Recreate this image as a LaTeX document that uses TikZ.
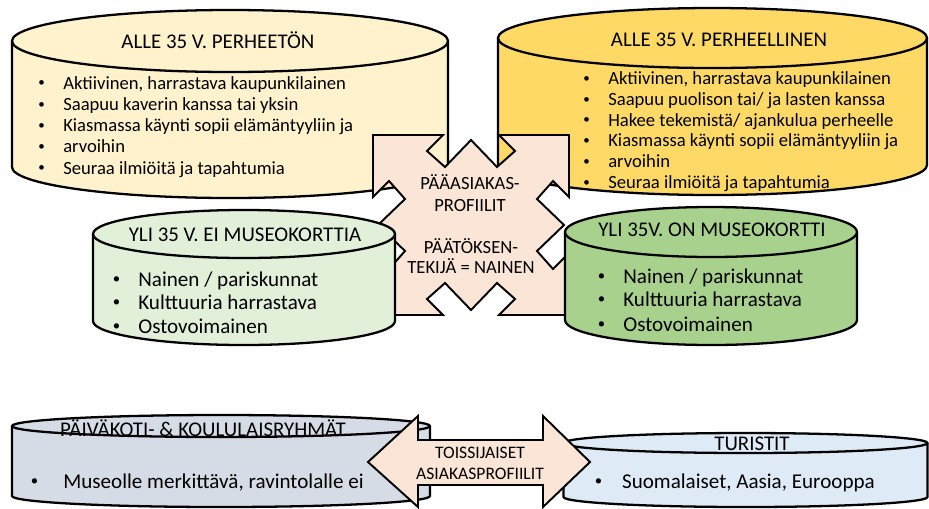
\documentclass[tikz,border=0pt]{standalone}
\usepackage{fontspec}
\setmainfont{Carlito}
\definecolor{cream}{HTML}{FFF2CC}
\definecolor{gold}{HTML}{FFD966}
\definecolor{palegreen}{HTML}{E2F0D9}
\definecolor{midgreen}{HTML}{A9D18E}
\definecolor{bluegray}{HTML}{D6DCE5}
\definecolor{paleblue}{HTML}{DEEBF7}
\definecolor{peach}{HTML}{FBE5D6}
\tikzset{
  drum/.style={draw=black, line width=1.3pt, line join=round},
  badge/.style={draw=black, line width=1.1pt, fill=peach},
  head/.style={anchor=base, inner sep=0pt, font=\fontsize{11.9}{14}\selectfont},
  small/.style={anchor=base west, inner sep=0pt, font=\fontsize{10.6}{12}\selectfont},
  big/.style={anchor=base west, inner sep=0pt, font=\fontsize{12}{14}\selectfont},
  mid/.style={anchor=base, inner sep=0pt, font=\fontsize{10.6}{12}\selectfont},
}
% colour, centre x, top y, bottom y, x radius, y radius
\newcommand{\drum}[6]{%
  \filldraw[drum, fill=#1] (#2-#5,#3) -- (#2-#5,#4)
    arc[start angle=180, end angle=0, x radius=#5, y radius=#6] -- (#2+#5,#3) -- cycle;
  \filldraw[drum, fill=#1] (#2,#3) ellipse [x radius=#5, y radius=#6];
}
\newcommand{\dotitem}[2]{\makebox[#1][l]{\raisebox{0.12em}{\scalebox{0.7}{\textbullet}}}#2}

\begin{document}
\begin{tikzpicture}[x=0.02cm, y=-0.02cm]
    \useasboundingbox (0,0) rectangle (929,508);
    %% top row
    \drum{cream}{230}{41}{167}{218}{31}
    \drum{gold}{712.5}{38}{165}{214.5}{30}
    %% centre badge
    \filldraw[badge] (373,135) -- (443,135) -- (427,151) -- (445,167) -- (471,140)
      -- (497,167) -- (515,151) -- (499,135) -- (569,135) -- (569,197) -- (553,181)
      -- (537,199) -- (564,225) -- (537,251) -- (553,269) -- (569,253) -- (569,315)
      -- (499,315) -- (515,299) -- (497,283) -- (471,310) -- (445,283) -- (427,299)
      -- (443,315) -- (373,315) -- (373,253) -- (389,269) -- (405,251) -- (378,225)
      -- (405,199) -- (389,181) -- (373,197) -- cycle;
    %% middle row
    \drum{palegreen}{244}{234}{321}{151}{24}
    \drum{midgreen}{711}{232}{320}{146}{25}
    %% bottom row
    \drum{bluegray}{221}{426}{496}{209}{11}
    \drum{paleblue}{745.5}{443}{497}{182}{10}
    \filldraw[badge] (368,462) -- (418,416) -- (418,440) -- (543,440) -- (543,416)
      -- (590,462) -- (543,507) -- (543,485) -- (418,485) -- (418,507) -- cycle;
    %% texts, top left
    \node[head] (tltitle) at (218,48.5) {ALLE 35 V. PERHEETÖN};
    \node[small] (tl1) at (38,89) {\dotitem{14.2pt}{Aktiivinen, harrastava kaupunkilainen}};
    \node[small] (tl2) at (38,110.3) {\dotitem{14.2pt}{Saapuu kaverin kanssa tai yksin}};
    \node[small] (tl3) at (38,131.5) {\dotitem{14.2pt}{Kiasmassa käynti sopii elämäntyyliin ja}};
    \node[small] (tl4) at (38,152.8) {\dotitem{14.2pt}{arvoihin}};
    \node[small] (tl5) at (38,174) {\dotitem{14.2pt}{Seuraa ilmiöitä ja tapahtumia}};
    %% texts, top right
    \node[head] (trtitle) at (719,46.6) {ALLE 35 V. PERHEELLINEN};
    \node[small] (tr1) at (583,84.5) {\dotitem{14.2pt}{Aktiivinen, harrastava kaupunkilainen}};
    \node[small] (tr2) at (583,105.3) {\dotitem{14.2pt}{Saapuu puolison tai/ ja lasten kanssa}};
    \node[small] (tr3) at (583,126.1) {\dotitem{14.2pt}{Hakee tekemistä/ ajankulua perheelle}};
    \node[small] (tr4) at (583,146.9) {\dotitem{14.2pt}{Kiasmassa käynti sopii elämäntyyliin ja}};
    \node[small] (tr5) at (583,167.7) {\dotitem{14.2pt}{arvoihin}};
    \node[small] (tr6) at (583,188.5) {\dotitem{14.2pt}{Seuraa ilmiöitä ja tapahtumia}};
    %% texts, centre
    \node[mid] (main1) at (470,189) {PÄÄASIAKAS-};
    \node[mid] (main2) at (470,211) {PROFIILIT};
    \node[mid] (main3) at (471,253) {PÄÄTÖKSEN-};
    \node[mid] (main4) at (471,273) {TEKIJÄ = NAINEN};
    %% texts, middle left
    \node[head] (mltitle) at (245,241.5) {YLI 35 V. EI MUSEOKORTTIA};
    \node[big] (ml1) at (112.5,286) {\dotitem{14.5pt}{Nainen / pariskunnat}};
    \node[big] (ml2) at (112.5,309.5) {\dotitem{14.5pt}{Kulttuuria harrastava}};
    \node[big] (ml3) at (112.5,333) {\dotitem{14.5pt}{Ostovoimainen}};
    %% texts, middle right
    \node[head] (mrtitle) at (712,236.6) {YLI 35V. ON MUSEOKORTTI};
    \node[big] (mr1) at (597.5,283) {\dotitem{14.5pt}{Nainen / pariskunnat}};
    \node[big] (mr2) at (597.5,306.5) {\dotitem{14.5pt}{Kulttuuria harrastava}};
    \node[big] (mr3) at (597.5,331) {\dotitem{14.5pt}{Ostovoimainen}};
    %% texts, bottom
    \node[head] (bltitle) at (203,436.6) {PÄIVÄKOTI- \& KOULULAISRYHMÄT};
    \node[big] (bl1) at (30.5,488) {\dotitem{18.5pt}{Museolle merkittävä, ravintolalle ei}};
    \node[head] (brtitle) at (752,450.6) {TURISTIT};
    \node[big] (br1) at (594.5,488) {\dotitem{15.5pt}{Suomalaiset, Aasia, Eurooppa}};
    \node[mid, font=\fontsize{10}{12}\selectfont] (sec1) at (480,458) {TOISSIJAISET};
    \node[mid, font=\fontsize{10}{12}\selectfont] (sec2) at (480,479) {ASIAKASPROFIILIT};
\end{tikzpicture}
\end{document}
